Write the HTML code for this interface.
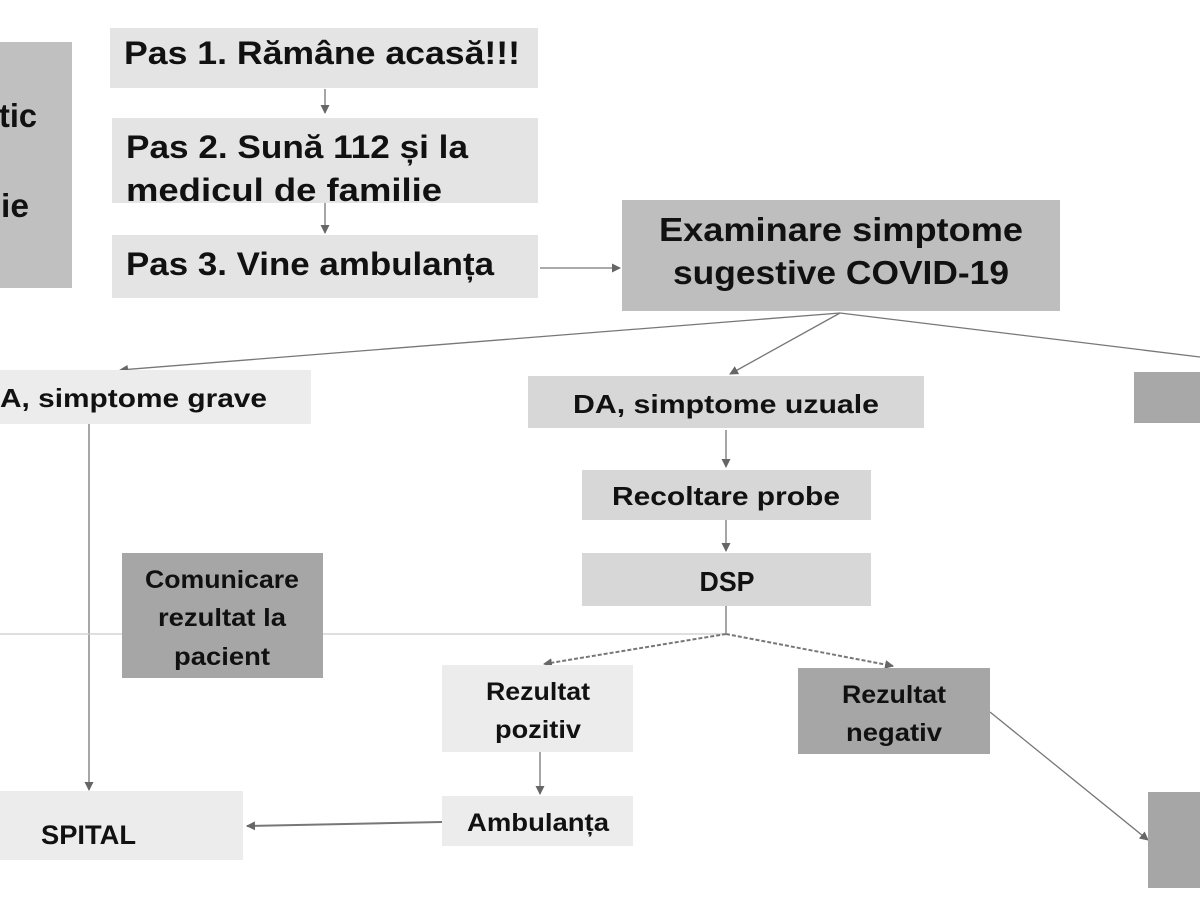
<!DOCTYPE html>
<html><head><meta charset="utf-8"><style>body{margin:0;background:#fff}svg{display:block}text{font-family:"Liberation Sans",sans-serif;font-weight:bold;fill:#111}</style></head>
<body>
<svg width="1200" height="900" viewBox="0 0 1200 900" xmlns="http://www.w3.org/2000/svg">
<defs><marker id="a" markerWidth="9" markerHeight="9" refX="8" refY="4.5" orient="auto" markerUnits="userSpaceOnUse"><path d="M0,0 L9,4.5 L0,9 z" fill="#666"/></marker></defs>
<rect x="0" y="42" width="72" height="246" fill="#c0c0c0"/>
<text x="37" y="127" font-size="33" text-anchor="end" textLength="38" lengthAdjust="spacingAndGlyphs">tic</text>
<text x="29" y="217" font-size="33" text-anchor="end" textLength="28" lengthAdjust="spacingAndGlyphs">ie</text>
<rect x="110" y="28" width="428" height="60" fill="#e4e4e4"/>
<text x="124" y="64" font-size="32" textLength="396" lengthAdjust="spacingAndGlyphs">Pas 1. Rămâne acasă!!!</text>
<rect x="112" y="118" width="426" height="85" fill="#e4e4e4"/>
<text x="126" y="158" font-size="32" textLength="342" lengthAdjust="spacingAndGlyphs">Pas 2. Sună 112 și la</text>
<text x="126" y="201" font-size="32" textLength="316" lengthAdjust="spacingAndGlyphs">medicul de familie</text>
<rect x="112" y="235" width="426" height="63" fill="#e4e4e4"/>
<text x="126" y="275" font-size="32" textLength="368" lengthAdjust="spacingAndGlyphs">Pas 3. Vine ambulanța</text>
<g stroke="#777" stroke-width="1.3" fill="none">
<line x1="325" y1="89" x2="325" y2="113" marker-end="url(#a)"/>
<line x1="325" y1="203" x2="325" y2="233" marker-end="url(#a)"/>
<line x1="540" y1="268" x2="620" y2="268" marker-end="url(#a)"/>
<line x1="840" y1="313" x2="120" y2="370" marker-end="url(#a)"/>
<line x1="840" y1="313" x2="730" y2="374" marker-end="url(#a)"/>
<line x1="840" y1="313" x2="1200" y2="357"/>
<line x1="726" y1="430" x2="726" y2="467" marker-end="url(#a)"/>
<line x1="726" y1="520" x2="726" y2="551" marker-end="url(#a)"/>
<line x1="89" y1="424" x2="89" y2="790" marker-end="url(#a)"/>
<line x1="726" y1="606" x2="726" y2="633"/>
<line x1="540" y1="752" x2="540" y2="794" marker-end="url(#a)"/>
<line x1="442" y1="822" x2="247" y2="826" marker-end="url(#a)" stroke-width="2"/>
<line x1="990" y1="712" x2="1148" y2="840" marker-end="url(#a)"/>
<line x1="0" y1="634" x2="726" y2="634" stroke="#ccc"/>
<line x1="726" y1="634" x2="544" y2="664" marker-end="url(#a)" stroke-dasharray="4 2" stroke-width="2"/>
<line x1="726" y1="634" x2="893" y2="666" marker-end="url(#a)" stroke-dasharray="4 2" stroke-width="2"/>
</g>
<rect x="622" y="200" width="438" height="111" fill="#bebebe"/>
<text x="841" y="241" font-size="33" text-anchor="middle" textLength="364" lengthAdjust="spacingAndGlyphs">Examinare simptome</text>
<text x="841" y="284" font-size="33" text-anchor="middle" textLength="336" lengthAdjust="spacingAndGlyphs">sugestive COVID-19</text>
<rect x="0" y="370" width="311" height="54" fill="#ececec"/>
<text x="0" y="407" font-size="26" textLength="267" lengthAdjust="spacingAndGlyphs">A, simptome grave</text>
<rect x="528" y="376" width="396" height="52" fill="#d7d7d7"/>
<text x="726" y="413" font-size="26" text-anchor="middle" textLength="306" lengthAdjust="spacingAndGlyphs">DA, simptome uzuale</text>
<rect x="1134" y="372" width="66" height="51" fill="#a8a8a8"/>
<rect x="582" y="470" width="289" height="50" fill="#d7d7d7"/>
<text x="726" y="505" font-size="26" text-anchor="middle" textLength="228" lengthAdjust="spacingAndGlyphs">Recoltare probe</text>
<rect x="582" y="553" width="289" height="53" fill="#d7d7d7"/>
<text x="727" y="591" font-size="28" text-anchor="middle" textLength="55" lengthAdjust="spacingAndGlyphs">DSP</text>
<rect x="122" y="553" width="201" height="125" fill="#a6a6a6"/>
<text x="222" y="588" font-size="25" text-anchor="middle" textLength="154" lengthAdjust="spacingAndGlyphs">Comunicare</text>
<text x="222" y="626" font-size="25" text-anchor="middle" textLength="128" lengthAdjust="spacingAndGlyphs">rezultat la</text>
<text x="222" y="665" font-size="25" text-anchor="middle" textLength="96" lengthAdjust="spacingAndGlyphs">pacient</text>
<rect x="442" y="665" width="191" height="87" fill="#ececec"/>
<text x="538" y="700" font-size="25" text-anchor="middle" textLength="104" lengthAdjust="spacingAndGlyphs">Rezultat</text>
<text x="538" y="738" font-size="25" text-anchor="middle" textLength="86" lengthAdjust="spacingAndGlyphs">pozitiv</text>
<rect x="798" y="668" width="192" height="86" fill="#a6a6a6"/>
<text x="894" y="703" font-size="25" text-anchor="middle" textLength="104" lengthAdjust="spacingAndGlyphs">Rezultat</text>
<text x="894" y="741" font-size="25" text-anchor="middle" textLength="96" lengthAdjust="spacingAndGlyphs">negativ</text>
<rect x="442" y="796" width="191" height="50" fill="#ececec"/>
<text x="538" y="831" font-size="25" text-anchor="middle" textLength="142" lengthAdjust="spacingAndGlyphs">Ambulanța</text>
<rect x="0" y="791" width="243" height="69" fill="#ececec"/>
<text x="41" y="844" font-size="27" textLength="95" lengthAdjust="spacingAndGlyphs">SPITAL</text>
<rect x="1148" y="792" width="52" height="96" fill="#a6a6a6"/>
</svg>
</body></html>
